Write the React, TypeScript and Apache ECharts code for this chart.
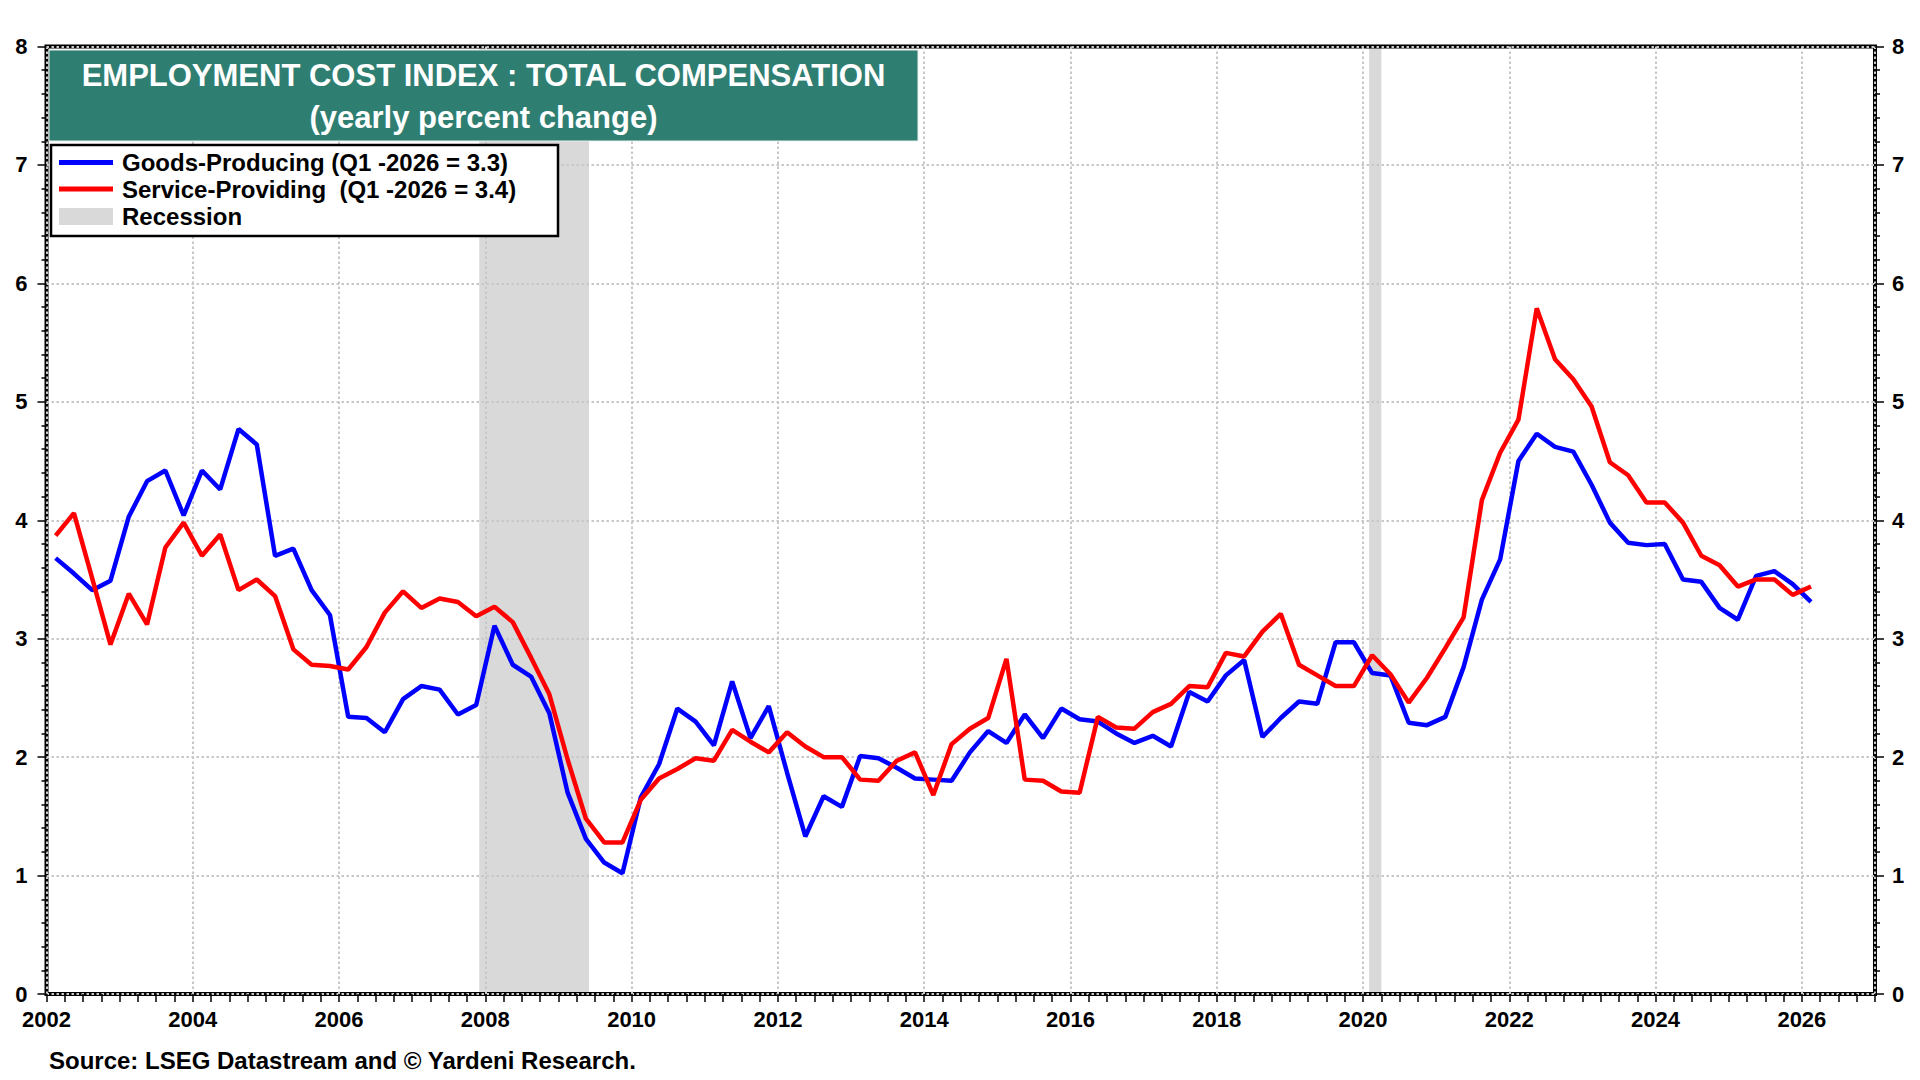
import React, { useEffect, useRef } from "react";
import * as echarts from "echarts";

const FONT = '"Liberation Sans", Arial, Helvetica, sans-serif';

const START_YEAR = 2002;

// Goods-Producing, quarterly from Q1 2002 to Q1 2026 (yearly % change)
const goods: number[] = [
  3.68, 3.55, 3.41, 3.49,
  4.03, 4.33, 4.42, 4.04,
  4.42, 4.26, 4.77, 4.64,
  3.70, 3.76, 3.41, 3.20,
  2.34, 2.33, 2.21, 2.49,
  2.60, 2.57, 2.36, 2.44,
  3.11, 2.78, 2.68, 2.37,
  1.70, 1.31, 1.11, 1.02,
  1.66, 1.94, 2.41, 2.30,
  2.10, 2.64, 2.16, 2.43,
  1.87, 1.33, 1.67, 1.58,
  2.01, 1.99, 1.91, 1.82,
  1.81, 1.80, 2.04, 2.22,
  2.12, 2.36, 2.16, 2.41,
  2.32, 2.30, 2.20, 2.12,
  2.18, 2.09, 2.55, 2.47,
  2.69, 2.82, 2.17, 2.33,
  2.47, 2.45, 2.97, 2.97,
  2.71, 2.69, 2.29, 2.27,
  2.34, 2.76, 3.33, 3.67,
  4.50, 4.73, 4.62, 4.58,
  4.30, 3.98, 3.81, 3.79,
  3.80, 3.50, 3.48, 3.26,
  3.16, 3.53, 3.57, 3.46,
  3.31,
];

// Service-Providing, quarterly from Q1 2002 to Q1 2026
const services: number[] = [
  3.87, 4.06, 3.51, 2.95,
  3.38, 3.12, 3.77, 3.98,
  3.70, 3.88, 3.41, 3.50,
  3.36, 2.91, 2.78, 2.77,
  2.74, 2.93, 3.22, 3.40,
  3.26, 3.34, 3.31, 3.19,
  3.27, 3.14, 2.84, 2.53,
  1.98, 1.48, 1.28, 1.28,
  1.64, 1.82, 1.90, 1.99,
  1.97, 2.23, 2.13, 2.04,
  2.21, 2.09, 2.00, 2.00,
  1.81, 1.80, 1.97, 2.04,
  1.68, 2.11, 2.24, 2.33,
  2.83, 1.81, 1.80, 1.71,
  1.70, 2.34, 2.25, 2.24,
  2.38, 2.45, 2.60, 2.59,
  2.88, 2.85, 3.06, 3.21,
  2.78, 2.69, 2.60, 2.60,
  2.86, 2.70, 2.46, 2.67,
  2.92, 3.18, 4.17, 4.57,
  4.85, 5.79, 5.36, 5.19,
  4.96, 4.49, 4.38, 4.15,
  4.15, 3.98, 3.70, 3.62,
  3.44, 3.50, 3.50, 3.37,
  3.44,
];

// Recession periods [start, end] in decimal years
const recessions: [number, number][] = [
  [2007.917, 2009.417],
  [2020.083, 2020.25],
];

const X_MIN = 2002;
const X_MAX = 2027;
const Y_MIN = 0;
const Y_MAX = 8;

const TITLE_1 = "EMPLOYMENT COST INDEX : TOTAL COMPENSATION";
const TITLE_2 = "(yearly percent change)";
const LEGEND_GOODS = "Goods-Producing (Q1 -2026 = 3.3)";
const LEGEND_SERVICES = "Service-Providing  (Q1 -2026 = 3.4)";
const LEGEND_RECESSION = "Recession";
const SOURCE = "Source: LSEG Datastream and \u00A9 Yardeni Research.";

// quarter mid-point time coordinate
const quarterTime = (i: number) => START_YEAR + i * 0.25 + 0.125;

export default function App() {
  const ref = useRef<HTMLDivElement>(null);

  useEffect(() => {
    if (!ref.current) return;
    const chart = echarts.init(ref.current, undefined, { renderer: "svg" });

    const goodsData = goods.map((v, i) => [quarterTime(i), v]);
    const servicesData = services.map((v, i) => [quarterTime(i), v]);

    const tickStyle = { color: "#000", width: 1.5 };
    const gridLine = { color: "#c8c8c8", width: 2, type: [2.5, 2.5] as number[] };
    const labelStyle = {
      fontSize: 22,
      fontWeight: "bold" as const,
      color: "#000",
      fontFamily: FONT,
    };

    const option: any = {
      animation: false,
      backgroundColor: "#fff",
      textStyle: { fontFamily: FONT },
      grid: {
        left: 46.5,
        right: 45,
        top: 46.5,
        bottom: 86,
        show: true,
        borderColor: "#000",
        borderWidth: 4,
        backgroundColor: "transparent",
      },
      xAxis: [
        {
          type: "value",
          min: X_MIN,
          max: X_MAX,
          interval: 1,
          position: "bottom",
          axisLine: { show: false },
          axisTick: { show: true, length: 8, lineStyle: tickStyle },
          minorTick: { show: true, splitNumber: 4, length: 8, lineStyle: tickStyle },
          axisLabel: {
            ...labelStyle,
            margin: 14,
            formatter: (v: number) => (v % 2 === 0 && v < X_MAX ? String(v) : ""),
          },
          splitLine: { show: false },
        },
        {
          type: "value",
          min: X_MIN,
          max: X_MAX,
          interval: 2,
          position: "bottom",
          axisLine: { show: false },
          axisTick: { show: false },
          axisLabel: { show: false },
          splitLine: { show: true, lineStyle: gridLine },
        },
      ],
      yAxis: [
        {
          type: "value",
          min: Y_MIN,
          max: Y_MAX,
          interval: 1,
          position: "left",
          axisLine: { show: false },
          axisTick: { show: true, length: 9, lineStyle: tickStyle },
          minorTick: { show: true, splitNumber: 5, length: 5, lineStyle: tickStyle },
          axisLabel: { ...labelStyle, margin: 19 },
          splitLine: { show: true, lineStyle: gridLine },
        },
        {
          type: "value",
          min: Y_MIN,
          max: Y_MAX,
          interval: 1,
          position: "right",
          axisLine: { show: false },
          axisTick: { show: true, length: 9, lineStyle: tickStyle },
          minorTick: { show: true, splitNumber: 5, length: 5, lineStyle: tickStyle },
          axisLabel: { ...labelStyle, margin: 17 },
          splitLine: { show: false },
        },
      ],
      series: [
        {
          type: "custom",
          name: "Recession",
          xAxisIndex: 0,
          yAxisIndex: 0,
          z: -1,
          silent: true,
          data: recessions.map(([s, e]) => [s, e, Y_MIN, Y_MAX]),
          encode: { x: [0, 1], y: [2, 3] },
          renderItem: (_params: any, api: any) => {
            const p0 = api.coord([api.value(0), api.value(3)]);
            const p1 = api.coord([api.value(1), api.value(2)]);
            return {
              type: "rect",
              shape: { x: p0[0], y: p0[1], width: p1[0] - p0[0], height: p1[1] - p0[1] },
              style: { fill: "#d9d9d9" },
            };
          },
        },
        {
          type: "line",
          name: "Goods-Producing",
          xAxisIndex: 0,
          yAxisIndex: 0,
          data: goodsData,
          showSymbol: false,
          z: 3,
          lineStyle: { color: "#0000ff", width: 4.5 },
          itemStyle: { color: "#0000ff" },
        },
        {
          type: "line",
          name: "Service-Providing",
          xAxisIndex: 0,
          yAxisIndex: 0,
          data: servicesData,
          showSymbol: false,
          z: 4,
          lineStyle: { color: "#ff0000", width: 4.5 },
          itemStyle: { color: "#ff0000" },
        },
      ],
      graphic: [
        {
          type: "rect",
          z: 100,
          shape: { x: 49, y: 50, width: 869, height: 91 },
          style: { fill: "#2f7e72", stroke: "#e8f0ee", lineWidth: 1 },
        },
        {
          type: "text",
          z: 101,
          style: {
            x: 483.5,
            y: 75,
            text: TITLE_1,
            fill: "#fff",
            fontSize: 31,
            fontWeight: "bold",
            fontFamily: FONT,
            align: "center",
            verticalAlign: "middle",
          },
        },
        {
          type: "text",
          z: 101,
          style: {
            x: 483.5,
            y: 117,
            text: TITLE_2,
            fill: "#fff",
            fontSize: 31,
            fontWeight: "bold",
            fontFamily: FONT,
            align: "center",
            verticalAlign: "middle",
          },
        },
        {
          type: "rect",
          z: 100,
          shape: { x: 51, y: 145, width: 507, height: 91 },
          style: { fill: "#fff", stroke: "#000", lineWidth: 2.5 },
        },
        {
          type: "line",
          z: 101,
          shape: { x1: 59, y1: 162.5, x2: 113, y2: 162.5 },
          style: { stroke: "#0000ff", lineWidth: 5 },
        },
        {
          type: "line",
          z: 101,
          shape: { x1: 59, y1: 189, x2: 113, y2: 189 },
          style: { stroke: "#ff0000", lineWidth: 5 },
        },
        {
          type: "rect",
          z: 101,
          shape: { x: 59, y: 208, width: 54, height: 17 },
          style: { fill: "#d9d9d9" },
        },
        ...[
          [LEGEND_GOODS, 162.5],
          [LEGEND_SERVICES, 189],
          [LEGEND_RECESSION, 216],
        ].map(([t, y]) => ({
          type: "text",
          z: 101,
          style: {
            x: 122,
            y: y as number,
            text: t as string,
            fill: "#000",
            fontSize: 24,
            fontWeight: "bold",
            fontFamily: FONT,
            align: "left",
            verticalAlign: "middle",
          },
        })),
        {
          type: "text",
          z: 101,
          style: {
            x: 49,
            y: 1060,
            text: SOURCE,
            fill: "#000",
            fontSize: 24,
            fontWeight: "bold",
            fontFamily: FONT,
            align: "left",
            verticalAlign: "middle",
          },
        },
      ],
    };

    chart.setOption(option);
    return () => {
      chart.dispose();
    };
  }, []);

  return (
    <div
      ref={ref}
      style={{ position: "fixed", left: 0, top: 0, width: 1920, height: 1080, background: "#fff" }}
    />
  );
}
